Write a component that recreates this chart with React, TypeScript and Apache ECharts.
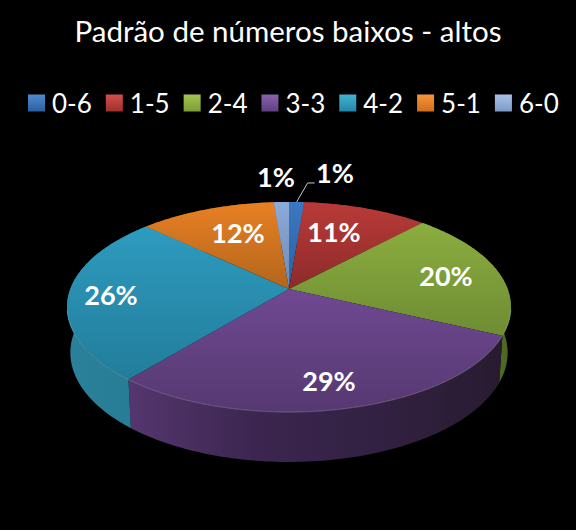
import React, { useEffect, useRef } from "react";
import * as echarts from "echarts";

const chartTitle = "Padrão de números baixos - altos";
const categories = ["0-6", "1-5", "2-4", "3-3", "4-2", "5-1", "6-0"];
const shares = [1.3, 10.7, 20, 29, 26, 11.7, 1.3];

const topColors = [
  ["#3b78c2", "#2c5f9f"],
  ["#b93a38", "#8c2b2a"],
  ["#8cad3f", "#6e8c33"],
  ["#6f4992", "#563871"],
  ["#2e9bbf", "#227d9b"],
  ["#e88024", "#b3651b"],
  ["#8dabd9", "#6e8ab4"],
];
const sideColors = [
  ["#24507f", "#1e4270"],
  ["#702322", "#5c1d1c"],
  ["#6a8a30", "#4c6620"],
  ["#55366f", "#3c2650", "#322142", "#281b30"],
  ["#2a8199", "#267c94"],
  ["#8f5016", "#7a4412"],
  ["#586e90", "#4c607e"],
];
const legendColors = [
  ["#4f8bd0", "#2c5f9f"],
  ["#d0504c", "#a02f2d"],
  ["#a4c54f", "#7d9c38"],
  ["#8a62ac", "#5e3f80"],
  ["#40b4d4", "#2586a6"],
  ["#f7953a", "#d06f1c"],
  ["#a9c2e4", "#7d9ac8"],
];
// label centres, as offsets from the pie's apex
const labelOffsets = [
  [46, -117],
  [45, -58],
  [157, -14],
  [40, 91],
  [-178, 5],
  [-51, -57],
  [-13, -113],
];

const APEX_X = 289;
const APEX_Y = 289;
const RX = 218.7;
const RY = 102;
const PERSP = 0.171;
const BOTTOM_SCALE_X = 0.985;
const BOTTOM_SCALE_Y = 1.04;
const BOTTOM_DROP = 45;

const total = shares.reduce((a, b) => a + b, 0);

function rimPoint(frac: number, bottom: boolean): number[] {
  const a = frac * Math.PI * 2;
  const u = Math.sin(a);
  const v = -Math.cos(a);
  const w = 1 - PERSP * v;
  if (bottom) {
    return [
      APEX_X + (RX * BOTTOM_SCALE_X * u) / w,
      APEX_Y + BOTTOM_DROP + (RY * BOTTOM_SCALE_Y * v) / w,
    ];
  }
  return [APEX_X + (RX * u) / w, APEX_Y + (RY * v) / w];
}

function sampleArc(from: number, to: number, bottom: boolean): number[][] {
  const n = Math.max(2, Math.ceil((to - from) * 360));
  const pts: number[][] = [];
  for (let i = 0; i <= n; i++) pts.push(rimPoint(from + ((to - from) * i) / n, bottom));
  return pts;
}

function gradient(colors: string[], horizontal: boolean) {
  const stops = colors.map((color, i) => ({ offset: i / (colors.length - 1), color }));
  return new echarts.graphic.LinearGradient(0, 0, horizontal ? 1 : 0, horizontal ? 0 : 1, stops);
}

function makeRenderItem(index: number) {
  return (_params: any, api: any) => {
    const value = api.value(0);
    const before = shares.slice(0, index).reduce((a, b) => a + b, 0);
    const from = before / total;
    const to = (before + value) / total;
    const topArc = sampleArc(from, to, false);
    const bottomArc = sampleArc(from, to, true);
    const children: any[] = [
      {
        type: "polygon",
        z2: 1,
        shape: { points: [...topArc, ...bottomArc.slice().reverse()] },
        style: { fill: gradient(sideColors[index], true) },
      },
      {
        type: "polygon",
        z2: 2,
        shape: { points: [[APEX_X, APEX_Y], ...topArc] },
        style: { fill: gradient(topColors[index], false) },
      },
    ];
    const frontRim = topArc.filter((p) => p[1] > APEX_Y + 20);
    if (frontRim.length > 1) {
      children.push({
        type: "polyline",
        z2: 3,
        shape: { points: frontRim },
        style: { stroke: "rgba(255,255,255,0.22)", lineWidth: 1, fill: "none" },
      });
    }
    if (index === 0) {
      const start = rimPoint((from + to) / 2, false);
      children.push({
        type: "polyline",
        z2: 3,
        shape: {
          points: [start, [start[0] + 11, start[1] - 19], [start[0] + 18, start[1] - 19]],
        },
        style: { stroke: "#c8c8c8", lineWidth: 1, fill: "none" },
      });
    }
    children.push({
      type: "text",
      z2: 4,
      style: {
        text: `${Math.round(value)}%`,
        x: APEX_X + labelOffsets[index][0],
        y: APEX_Y + labelOffsets[index][1],
        fill: "#ffffff",
        font: 'bold 27px Lato',
        textAlign: "center",
        textVerticalAlign: "middle",
      },
    });
    return { type: "group", children };
  };
}

export default function App() {
  const ref = useRef<HTMLDivElement>(null);
  useEffect(() => {
    document.body.style.margin = "0";
    document.body.style.background = "#000";
    const chart = echarts.init(ref.current!, undefined, { renderer: "svg" });
    chart.setOption({
      animation: false,
      backgroundColor: "#000000",
      title: {
        text: chartTitle,
        left: "center",
        top: 10,
        textStyle: { color: "#ffffff", fontFamily: "Lato", fontSize: 29.5, fontWeight: "normal" },
      },
      legend: {
        left: 23,
        top: 85,
        width: 560,
        itemWidth: 17,
        itemHeight: 17,
        itemGap: 14,
        textStyle: { color: "#ffffff", fontFamily: "Lato", fontSize: 26, padding: [0, 0, 0, 2] },
        data: categories.map((name, i) => ({
          name,
          icon: "rect",
          itemStyle: { color: gradient(legendColors[i], false) },
        })),
        selectedMode: false,
      },
      series: categories.map((name, i) => ({
        type: "custom",
        name,
        coordinateSystem: "none",
        silent: true,
        itemStyle: { color: topColors[i][0] },
        renderItem: makeRenderItem(i),
        data: [[shares[i]]],
      })),
    });
    return () => chart.dispose();
  }, []);
  return <div ref={ref} style={{ width: 576, height: 530 }} />;
}
